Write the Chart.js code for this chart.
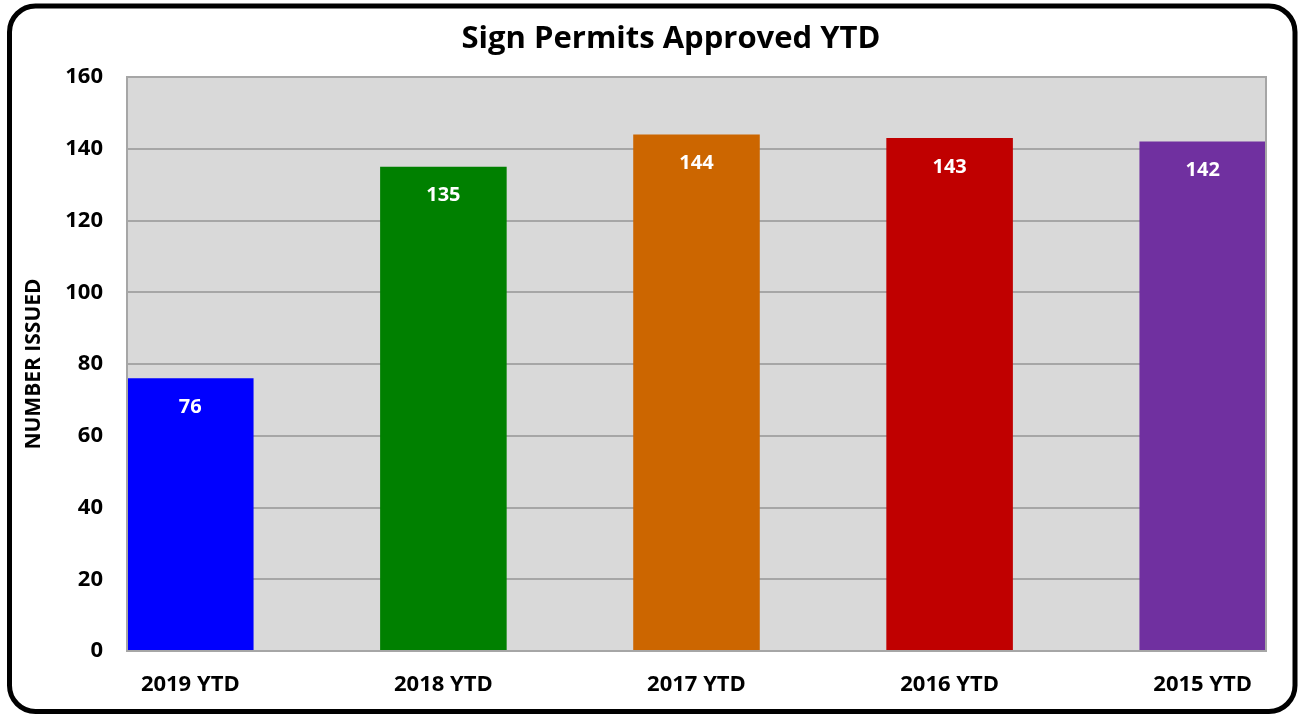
<!DOCTYPE html>
<html>
<head>
<meta charset="utf-8">
<script src="https://cdn.jsdelivr.net/npm/chart.js@4.4.1/dist/chart.umd.min.js"></script>
<style>
  html, body { margin: 0; padding: 0; background: #fff; }
  #wrap { width: 1299px; height: 714px; position: relative; }
</style>
</head>
<body>
<div id="wrap"><canvas id="permitsChart"></canvas></div>
<script>
// dados
const chartTitle = 'Sign Permits Approved YTD';
const categories = ['2019 YTD', '2018 YTD', '2017 YTD', '2016 YTD', '2015 YTD'];
const permits = [76, 135, 144, 143, 142];
const barColors = ['#0000ff', '#008000', '#cc6600', '#c00000', '#7030a0'];
const yTicks = [0, 20, 40, 60, 80, 100, 120, 140, 160];

const FONT = '"Open Sans", Lato, sans-serif';

// moldura arredondada, fundo cinza da área de plotagem e título
const framePlugin = {
  id: 'frame',
  beforeDraw(chart) {
    const { ctx, chartArea: a } = chart;
    ctx.save();
    ctx.fillStyle = '#d9d9d9';
    ctx.fillRect(a.left, a.top, a.right - a.left, a.bottom - a.top);
    ctx.restore();
  },
  afterDraw(chart) {
    const { ctx, chartArea: a } = chart;
    ctx.save();
    ctx.strokeStyle = '#a6a6a6';
    ctx.lineWidth = 2;
    ctx.strokeRect(a.left, a.top, a.right - a.left, a.bottom - a.top);
    ctx.strokeStyle = '#000';
    ctx.lineWidth = 5;
    ctx.beginPath();
    ctx.roundRect(9.5, 6, 1285.5, 705.5, 26);
    ctx.stroke();
    // título (Excel o centraliza um pouco à direita do centro do canvas)
    ctx.fillStyle = '#000';
    ctx.font = 'bold 31px ' + FONT;
    ctx.textAlign = 'center';
    ctx.textBaseline = 'alphabetic';
    ctx.fillText(chartTitle, 671, 48);
    ctx.restore();
  }
};

// rótulos brancos dentro das barras
const valueLabels = {
  id: 'valueLabels',
  afterDatasetsDraw(chart) {
    const { ctx } = chart;
    const meta = chart.getDatasetMeta(0);
    ctx.save();
    ctx.fillStyle = '#fff';
    ctx.font = 'bold 20px ' + FONT;
    ctx.textAlign = 'center';
    ctx.textBaseline = 'middle';
    meta.data.forEach((bar, i) => {
      ctx.fillText(String(permits[i]), bar.x, bar.y + 29);
    });
    ctx.restore();
  }
};

new Chart(document.getElementById('permitsChart'), {
  type: 'bar',
  data: {
    datasets: [{
      data: permits.map((v, i) => ({ x: i, y: v })),
      backgroundColor: barColors,
      borderWidth: 0,
      barPercentage: 0.5,
      categoryPercentage: 1
    }]
  },
  options: {
    responsive: true,
    maintainAspectRatio: false,
    animation: false,
    layout: { padding: { left: 0, right: 33, top: 77, bottom: 0 } },
    plugins: {
      legend: { display: false },
      tooltip: { enabled: false },
      title: { display: false }
    },
    scales: {
      x: {
        type: 'linear',
        offset: false,
        min: -0.25,
        max: 4.25,
        afterBuildTicks(scale) { scale.ticks = categories.map((c, i) => ({ value: i })); },
        afterFit(scale) { scale.height = 63; },
        grid: { display: false, drawTicks: false },
        border: { display: false },
        ticks: {
          color: '#000',
          padding: 21,
          maxRotation: 0,
          font: { family: FONT, size: 22, weight: 'bold' },
          callback: (v) => categories[v]
        }
      },
      y: {
        min: 0,
        max: 160,
        afterBuildTicks(scale) { scale.ticks = yTicks.map(v => ({ value: v })); },
        afterFit(scale) { scale.width = 127; },
        grid: { color: '#a6a6a6', lineWidth: 2, drawTicks: false },
        border: { display: false },
        ticks: {
          color: '#000',
          padding: 24,
          font: { family: FONT, size: 22, weight: 'bold' }
        },
        title: {
          display: true,
          text: 'NUMBER ISSUED',
          color: '#000',
          font: { family: FONT, size: 21, weight: 'bold' },
          padding: { top: 21, bottom: 0 }
        }
      }
    }
  },
  plugins: [framePlugin, valueLabels]
});
</script>
</body>
</html>
